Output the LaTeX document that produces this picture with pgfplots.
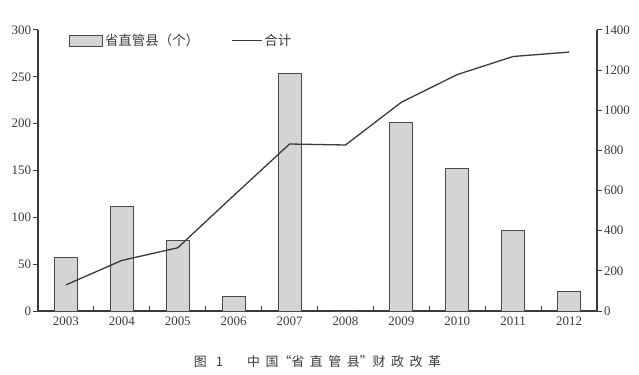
\documentclass[border=0pt]{standalone}
\usepackage{fontspec}
\setmainfont{Liberation Serif}
\newfontfamily\cjk{Noto Sans CJK SC}
\usepackage{pgfplots}
\pgfplotsset{compat=1.18}
\definecolor{axgray}{HTML}{3A3A3A}
\definecolor{barfill}{HTML}{D4D4D4}
\definecolor{baredge}{HTML}{4A4A4A}
\pgfplotsset{
  barleg/.style={legend image code/.code={\draw[##1] (0bp,-5.5bp) rectangle (33bp,5.5bp);}},
  lineleg/.style={legend image code/.code={\draw[##1] (0bp,0bp) -- (30bp,0bp);}},
}
\begin{document}
\begin{tikzpicture}
\pgfplotsset{
  common/.style={
    scale only axis, width=559bp, height=281bp,
    xmin=-0.5, xmax=9.5,
    axis line style={axgray, line width=1.2bp},
    every tick label/.append style={font=\fontsize{13}{15}\selectfont, text=axgray},
    /pgf/number format/assume math mode=true,
    /pgf/number format/1000 sep={},
    tick style={axgray, line width=1bp},
    major tick length=4.5bp,
  }
}
\begin{axis}[common, name=ax,
  axis x line*=bottom, axis y line*=left,
  ymin=0, ymax=300, ytick={0,50,...,300},
  y tick label style={xshift=1bp},
  ytick align=outside,
  xtick={0.5,1.5,...,9.5},
  xticklabels={2003,2004,2005,2006,2007,2008,2009,2010,2011,2012},
  xtick align=inside,
  x tick label style={xshift=-27.95bp, yshift=-2bp},
  clip=false,
  legend columns=2,
  legend style={draw=none, fill=none, at={(0.05,1.0)}, anchor=north west,
    font=\cjk\fontsize{13.5}{15}\selectfont, text=axgray,
    /tikz/every even column/.append style={column sep=30bp}},
]
\addplot[ybar, bar width=23bp, fill=barfill, draw=baredge, line width=0.9bp, barleg]
  coordinates {(0,57) (1,112) (2,75) (3,15) (4,254) (5,0) (6,201) (7,152) (8,86) (9,21)};
\addlegendentry{省直管县（个）}
\addlegendimage{axgray, line width=1.3bp, lineleg}
\addlegendentry{合计}
\pgfplotsinvokeforeach{0.5,1.5,2.5,3.5,4.5,5.5,6.5,7.5,8.5}{
  \draw[axgray, line width=1bp] (axis cs:#1,0) -- ++(0bp,5bp);
}
\end{axis}
\begin{axis}[common,
  axis x line=none, axis y line*=right,
  ymin=0, ymax=1400, ytick={0,200,...,1400},
  ytick align=outside,
  y tick label style={xshift=-1bp},
]
\addplot[axgray, line width=1.3bp, mark=none]
  coordinates {(0,130) (1,252) (2,315) (3,575) (4,832) (5,827) (6,1040) (7,1178) (8,1268) (9,1290)};
\end{axis}
\node[font=\cjk\fontsize{13}{15}\selectfont, text=axgray] at ([yshift=-51bp]ax.south) {图\hspace{9bp}1\hspace{24bp}中\hspace{5.5bp}国“省\hspace{5.5bp}直\hspace{5.5bp}管\hspace{5.5bp}县”财\hspace{5.5bp}政\hspace{5.5bp}改\hspace{5.5bp}革};
\pgfresetboundingbox
\path[use as bounding box] ([shift={(-38bp,-64bp)}]ax.south west) rectangle ([shift={(42bp,30bp)}]ax.north east);
\end{tikzpicture}
\end{document}
